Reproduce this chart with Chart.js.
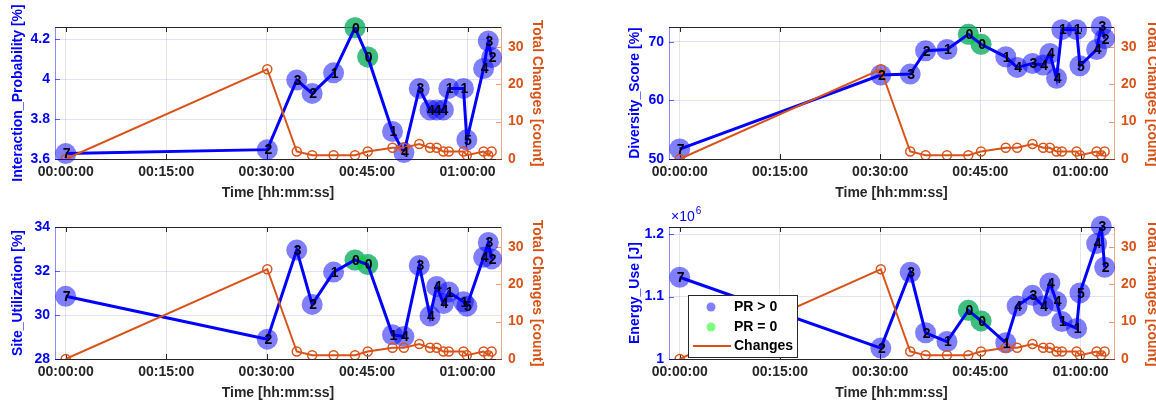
<!DOCTYPE html>
<html>
<head>
<meta charset="utf-8">
<script src="https://cdn.jsdelivr.net/npm/chart.js@4.4.1/dist/chart.umd.min.js"></script>
<style>
  html, body { margin: 0; padding: 0; background: #fff; overflow: hidden; }
  canvas { position: absolute; }
</style>
</head>
<body>
<canvas id="probChart" width="578" height="203" style="left:0;top:0"></canvas>
<canvas id="divChart" width="578" height="203" style="left:578px;top:0"></canvas>
<canvas id="siteChart" width="578" height="203" style="left:0;top:200px"></canvas>
<canvas id="energyChart" width="578" height="203" style="left:578px;top:200px"></canvas>
<script>
// minutes since start of run
var timeMin = [0, 30.1, 34.5, 36.8, 40.0, 43.2, 45.1, 48.8, 50.5, 52.8, 54.4, 55.4, 56.4, 57.2, 59.4, 59.9, 62.4, 63.1, 63.6];
var prCount = [7, 2, 3, 2, 1, 0, 0, 1, 4, 3, 4, 4, 4, 1, 1, 5, 4, 3, 2];
var totalChanges = [0, 24, 2, 1, 1, 1, 2, 3, 3, 4, 3, 3, 2, 2, 2, 1, 2, 1, 2];

var interactionProb = [3.627, 3.647, 3.996, 3.929, 4.032, 4.258, 4.112, 3.738, 3.632, 3.954, 3.846, 3.846, 3.846, 3.954, 3.954, 3.696, 4.054, 4.192, 4.109];
var diversityScore = [51.7, 64.35, 64.5, 68.5, 68.7, 71.3, 69.6, 67.46, 65.65, 66.33, 66.05, 68.02, 63.79, 72.1, 72.1, 65.93, 68.7, 72.65, 70.56];
var siteUtilization = [30.85, 28.9, 32.95, 30.48, 31.95, 32.5, 32.29, 29.1, 29.02, 32.25, 29.95, 31.3, 30.52, 31.05, 30.6, 30.4, 32.62, 33.3, 32.55];
var energyUse = [1131000, 1017500, 1139000, 1042000, 1028000, 1078000, 1061000, 1026000, 1085000, 1102000, 1085000, 1122000, 1092000, 1060000, 1049000, 1106000, 1185000, 1213000, 1147000];

var timeTicks = [0, 15, 30, 45, 60];
var timeTickLabels = ['00:00:00', '00:15:00', '00:30:00', '00:45:00', '01:00:00'];
var changeTicks = [0, 10, 20, 30];
var changeTickLabels = ['0', '10', '20', '30'];
var probTicks = [3.6, 3.8, 4, 4.2];
var probTickLabels = ['3.6', '3.8', '4', '4.2'];
var divTicks = [50, 60, 70];
var divTickLabels = ['50', '60', '70'];
var siteTicks = [28, 30, 32, 34];
var siteTickLabels = ['28', '30', '32', '34'];
var energyTicks = [1000000, 1100000, 1200000];
var energyTickLabels = ['1', '1.1', '1.2'];

var BLUE = '#0000ff';
var ORANGE = '#d95319';
var DARK = '#262626';

Chart.defaults.font.family = "'Liberation Sans', Arial, sans-serif";

function xy(vals) {
    return timeMin.map(function (t, i) { return {x: t, y: vals[i]}; });
}

// frame on top + inward tick marks like a boxed axes
var framePlugin = {
    id: 'frame',
    beforeDatasetsDraw: function (chart) {
        var ctx = chart.ctx, a = chart.chartArea;
        ctx.save();
        ctx.lineWidth = 1;
        ctx.strokeStyle = DARK;
        ctx.beginPath();
        ctx.moveTo(a.left, a.top + 0.5);
        ctx.lineTo(a.right, a.top + 0.5);
        chart.scales.x.ticks.forEach(function (t) {
            var px = Math.round(chart.scales.x.getPixelForValue(t.value)) + 0.5;
            ctx.moveTo(px, a.top); ctx.lineTo(px, a.top + 5);
            ctx.moveTo(px, a.bottom); ctx.lineTo(px, a.bottom - 5);
        });
        ctx.stroke();
        ctx.strokeStyle = 'rgba(0,0,255,0.6)';
        ctx.beginPath();
        chart.scales.y.ticks.forEach(function (t) {
            var py = Math.round(chart.scales.y.getPixelForValue(t.value)) + 0.5;
            ctx.moveTo(a.left, py); ctx.lineTo(a.left + 5, py);
        });
        ctx.stroke();
        ctx.strokeStyle = 'rgba(217,83,25,0.6)';
        ctx.beginPath();
        chart.scales.y1.ticks.forEach(function (t) {
            var py = Math.round(chart.scales.y1.getPixelForValue(t.value)) + 0.5;
            ctx.moveTo(a.right, py); ctx.lineTo(a.right - 5, py);
        });
        ctx.stroke();
        ctx.restore();
    }
};

// PR count written on each marker
var countLabels = {
    id: 'countLabels',
    afterDatasetsDraw: function (chart) {
        var meta = chart.getDatasetMeta(3);
        var ctx = chart.ctx;
        ctx.save();
        ctx.font = "bold 14px 'Liberation Sans', Arial, sans-serif";
        ctx.fillStyle = '#000';
        ctx.textAlign = 'center';
        ctx.textBaseline = 'middle';
        meta.data.forEach(function (pt, i) {
            ctx.fillText(String(prCount[i]), pt.x + 1, pt.y + 1);
        });
        ctx.restore();
    }
};

var exponentLabel = {
    id: 'exponentLabel',
    afterDraw: function (chart) {
        var ctx = chart.ctx, a = chart.chartArea;
        ctx.save();
        ctx.fillStyle = BLUE;
        ctx.textBaseline = 'middle';
        ctx.font = "14px 'Liberation Sans', Arial, sans-serif";
        ctx.fillText('\u00d710', a.left + 2, 17);
        var w = ctx.measureText('\u00d710').width;
        ctx.font = "10px 'Liberation Sans', Arial, sans-serif";
        ctx.fillText('6', a.left + 2 + w + 1, 11);
        ctx.restore();
    }
};

var legendBox = {
    id: 'legendBox',
    afterDraw: function (chart) {
        var ctx = chart.ctx;
        ctx.save();
        ctx.fillStyle = '#fff';
        ctx.fillRect(110, 95, 109, 62);
        ctx.strokeStyle = DARK;
        ctx.lineWidth = 1;
        ctx.strokeRect(110.5, 95.5, 109, 62);
        ctx.fillStyle = 'rgba(0,0,255,0.5)';
        ctx.beginPath(); ctx.arc(133, 107, 4.5, 0, Math.PI * 2); ctx.fill();
        ctx.fillStyle = 'rgba(0,255,0,0.5)';
        ctx.beginPath(); ctx.arc(133, 127, 4.5, 0, Math.PI * 2); ctx.fill();
        ctx.strokeStyle = ORANGE;
        ctx.lineWidth = 2;
        ctx.beginPath(); ctx.moveTo(115, 146); ctx.lineTo(153, 146); ctx.stroke();
        ctx.fillStyle = '#000';
        ctx.font = "bold 14px 'Liberation Sans', Arial, sans-serif";
        ctx.textBaseline = 'middle';
        ctx.fillText('PR > 0', 156, 107);
        ctx.fillText('PR = 0', 156, 127);
        ctx.fillText('Changes', 156, 146);
        ctx.restore();
    }
};

function makePanel(id, o) {
    var zeroPts = xy(o.values).filter(function (p, i) { return prCount[i] === 0; });
    var boldFont = {size: 14, weight: 'bold'};
    return new Chart(document.getElementById(id), {
        type: 'scatter',
        data: {
            datasets: [
                {
                    label: 'Changes', data: xy(totalChanges), yAxisID: 'y1', showLine: true,
                    borderColor: ORANGE, borderWidth: 2, pointRadius: 4.5,
                    pointBorderColor: ORANGE, pointBackgroundColor: 'rgba(0,0,0,0)', pointBorderWidth: 1.5,
                    order: 0
                },
                {
                    label: o.yTitle, data: xy(o.values), yAxisID: 'y', showLine: true,
                    borderColor: BLUE, borderWidth: 3, pointRadius: 0, order: 1
                },
                {
                    label: 'PR = 0', data: zeroPts, yAxisID: 'y', pointRadius: 10.5,
                    backgroundColor: 'rgba(0,255,0,0.5)', borderWidth: 0, clip: false, order: 2
                },
                {
                    label: 'PR > 0', data: xy(o.values), yAxisID: 'y', pointRadius: 10.5,
                    backgroundColor: 'rgba(0,0,255,0.5)', borderWidth: 0, clip: false, order: 3
                }
            ]
        },
        options: {
            responsive: false,
            animation: false,
            events: [],
            layout: {padding: {top: 27, left: 0, right: 0, bottom: 0}},
            plugins: {legend: {display: false}, tooltip: {enabled: false}},
            scales: {
                x: {
                    type: 'linear', min: -1.6, max: 65,
                    afterBuildTicks: function (s) { s.ticks = timeTicks.map(function (v) { return {value: v}; }); },
                    afterFit: function (s) { s.height = 44; },
                    ticks: {
                        callback: function (v, i) { return timeTickLabels[i]; },
                        color: DARK, font: boldFont, padding: 5, maxRotation: 0, autoSkip: false
                    },
                    grid: {color: 'rgba(38,38,38,0.12)', drawTicks: false},
                    border: {color: DARK},
                    title: {display: true, text: 'Time [hh:mm:ss]', color: DARK, font: boldFont, padding: {top: 0, bottom: 1}}
                },
                y: {
                    type: 'linear', position: 'left', min: o.yMin, max: o.yMax,
                    afterBuildTicks: function (s) { s.ticks = o.yTicks.map(function (v) { return {value: v}; }); },
                    afterFit: function (s) { s.width = o.leftWidth; },
                    ticks: {
                        callback: function (v, i) { return o.yTickLabels[i]; },
                        color: BLUE, font: boldFont, padding: 5, autoSkip: false
                    },
                    grid: {color: 'rgba(0,0,255,0.12)', drawTicks: false},
                    border: {color: 'rgba(0,0,255,0.45)'},
                    title: {display: true, text: o.yTitle, color: BLUE, font: boldFont, padding: {top: o.leftTitlePad, bottom: 0}}
                },
                y1: {
                    type: 'linear', position: 'right', min: 0, max: 35.3,
                    afterBuildTicks: function (s) { s.ticks = changeTicks.map(function (v) { return {value: v}; }); },
                    afterFit: function (s) { s.width = o.rightWidth; },
                    ticks: {
                        callback: function (v, i) { return changeTickLabels[i]; },
                        color: ORANGE, font: boldFont, padding: 7, autoSkip: false
                    },
                    grid: {display: false, drawTicks: false},
                    border: {color: 'rgba(217,83,25,0.5)'},
                    title: {display: true, text: 'Total Changes [count]', color: ORANGE, font: boldFont, padding: {top: o.rightTitlePad, bottom: 0}}
                }
            }
        },
        plugins: [framePlugin, countLabels].concat(o.extra || [])
    });
}

makePanel('probChart', {
    values: interactionProb, yTitle: 'Interaction_Probability [%]',
    yMin: 3.6, yMax: 4.262, yTicks: probTicks, yTickLabels: probTickLabels,
    leftWidth: 55, rightWidth: 77, leftTitlePad: 9.6, rightTitlePad: 32.6
});

makePanel('divChart', {
    values: diversityScore, yTitle: 'Diversity_Score [%]',
    yMin: 50, yMax: 72.55, yTicks: divTicks, yTickLabels: divTickLabels,
    leftWidth: 91, rightWidth: 42, leftTitlePad: 48.6, rightTitlePad: -4
});

makePanel('siteChart', {
    values: siteUtilization, yTitle: 'Site_Utilization [%]',
    yMin: 28, yMax: 34, yTicks: siteTicks, yTickLabels: siteTickLabels,
    leftWidth: 55, rightWidth: 77, leftTitlePad: 9.6, rightTitlePad: 32.6
});

makePanel('energyChart', {
    values: energyUse, yTitle: 'Energy_Use [J]',
    yMin: 1000000, yMax: 1211600, yTicks: energyTicks, yTickLabels: energyTickLabels,
    leftWidth: 91, rightWidth: 42, leftTitlePad: 48.6, rightTitlePad: -4,
    extra: [exponentLabel, legendBox]
});
</script>
</body>
</html>
